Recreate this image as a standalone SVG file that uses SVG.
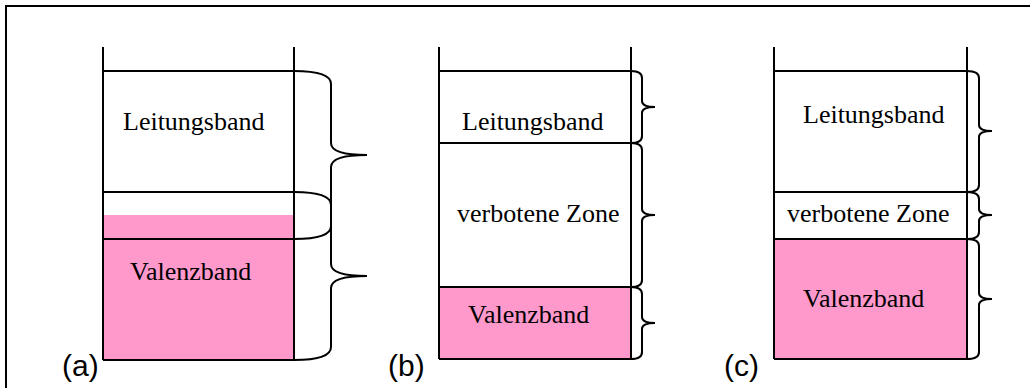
<svg xmlns="http://www.w3.org/2000/svg" width="1030" height="388" viewBox="0 0 1030 388">
<style>
.ln{stroke:#000;stroke-width:2;fill:none}
.br{stroke:#000;stroke-width:2;fill:none}
.fill{fill:#FF99CC}
.t{font-family:"Liberation Serif","Times New Roman",serif;font-size:26px;fill:#000}
.lab{font-family:"Liberation Sans",Arial,sans-serif;font-size:30px;fill:#000}
</style>
<rect x="0" y="0" width="1030" height="388" fill="#fff"/>
<path class="ln" d="M6,394 L6,6 L1036,6"/>

<g id="panel-a">
  <rect class="fill" x="103" y="215" width="191" height="145"/>
  <path class="ln" d="M103,47 V360 M294,47 V360 M103,71 H294 M103,192 H294 M103,239 H294 M103,360 H294"/>
  <text class="t" x="123" y="130">Leitungsband</text>
  <text class="t" x="130" y="280">Valenzband</text>
  <text class="lab" x="62" y="376">(a)</text>
</g>

<g id="panel-b">
  <rect class="fill" x="439" y="287" width="192" height="72"/>
  <path class="ln" d="M439,47 V359 M631,47 V359 M439,71 H631 M439,143 H631 M439,287 H631 M439,359 H631"/>
  <text class="t" x="462" y="130">Leitungsband</text>
  <text class="t" x="457" y="222">verbotene Zone</text>
  <text class="t" x="468" y="323">Valenzband</text>
  <text class="lab" x="388" y="376">(b)</text>
</g>

<g id="panel-c">
  <rect class="fill" x="774" y="239" width="193" height="120"/>
  <path class="ln" d="M774,47 V359 M967,47 V359 M774,71 H967 M774,192 H967 M774,239 H967 M774,359 H967"/>
  <text class="t" x="803" y="123">Leitungsband</text>
  <text class="t" x="787" y="222">verbotene Zone</text>
  <text class="t" x="803" y="307">Valenzband</text>
  <text class="lab" x="724" y="376">(c)</text>
</g>

<g id="connectors">
  <path class="br" d="M294,71 Q331,71 331,84 L331,143 Q331,155 367,155 Q331,155 331,167 L331,226 Q331,239 294,239"/>
  <path class="br" d="M294,192 Q331,192 331,205 L331,264 Q331,276 367,276 Q331,276 331,288 L331,347 Q331,360 294,360"/>
  <path class="br" d="M631,71 Q642,71 642,78 L642,101 Q642,107 655,107 Q642,107 642,113 L642,136 Q642,143 631,143"/>
  <path class="br" d="M631,143 Q642,143 642,150 L642,209 Q642,215 655,215 Q642,215 642,221 L642,280 Q642,287 631,287"/>
  <path class="br" d="M631,287 Q642,287 642,294 L642,317 Q642,323 655,323 Q642,323 642,329 L642,352 Q642,359 631,359"/>
  <path class="br" d="M967,71 Q979,71 979,78 L979,125 Q979,131 992,131 Q979,131 979,137 L979,185 Q979,192 967,192"/>
  <path class="br" d="M967,192 Q979,192 979,199 L979,209 Q979,215 992,215 Q979,215 979,221 L979,232 Q979,239 967,239"/>
  <path class="br" d="M967,239 Q979,239 979,246 L979,293 Q979,299 992,299 Q979,299 979,305 L979,352 Q979,359 967,359"/>
</g>
</svg>
